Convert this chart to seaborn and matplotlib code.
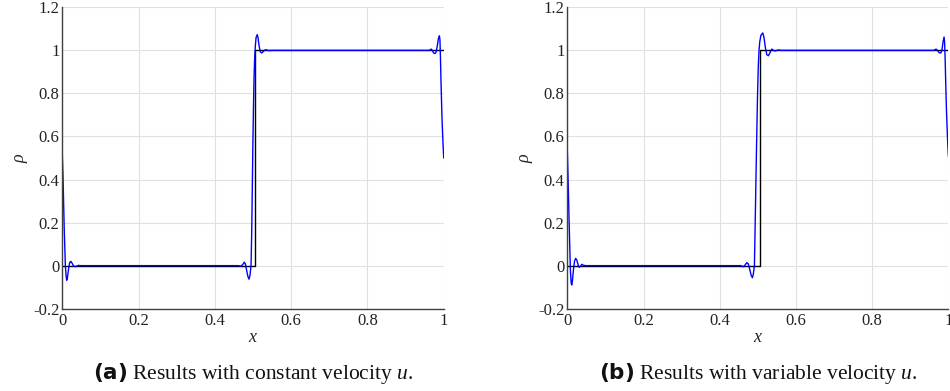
import numpy as np
import pandas as pd
import matplotlib
matplotlib.use("Agg")
import matplotlib.pyplot as plt
import seaborn as sns

# ---------------- data ----------------
# exact solution (black)
exact_x = [0.0, 0.505, 0.505, 1.0]
exact_y = [0.0, 0.0, 1.0, 1.0]

# (a) constant velocity – numerical solution (blue)
a_x = [0.0, 0.002, 0.005, 0.008, 0.010, 0.0115, 0.013, 0.016, 0.019, 0.021, 0.023,
       0.026, 0.029, 0.033, 0.037, 0.042, 0.050, 0.450, 0.455, 0.462, 0.468, 0.473,
       0.477, 0.480, 0.483, 0.4865, 0.4895, 0.492, 0.4948, 0.4965, 0.498, 0.4995,
       0.501, 0.5025, 0.504, 0.506, 0.508, 0.511, 0.513, 0.516, 0.519, 0.5228,
       0.527, 0.531, 0.534, 0.538, 0.542, 0.548, 0.960, 0.9635, 0.9667, 0.970,
       0.9735, 0.977, 0.980, 0.983, 0.986, 0.9885, 0.990, 0.9915, 0.993, 0.9955,
       0.998, 1.0]
a_y = [0.515, 0.40, 0.17, 0.0, -0.05, -0.068, -0.06, -0.02, 0.012, 0.019, 0.019,
       0.01, 0.0, -0.005, -0.002, 0.001, 0.0, 0.0, 0.0, 0.0, -0.003, 0.005,
       0.016, 0.008, -0.02, -0.05, -0.063, -0.045, 0.0, 0.15, 0.35, 0.55,
       0.72, 0.86, 0.95, 1.02, 1.06, 1.073, 1.06, 1.02, 0.993, 0.988,
       0.995, 1.002, 1.003, 1.0, 0.999, 1.0, 1.0, 1.001, 1.006, 1.0,
       0.988, 0.985, 0.992, 1.02, 1.055, 1.068, 1.05, 0.96, 0.84, 0.68,
       0.57, 0.4995]

# (b) variable velocity – numerical solution (blue)
b_x = [0.0, 0.002, 0.005, 0.008, 0.010, 0.0115, 0.013, 0.016, 0.019, 0.022, 0.025,
       0.028, 0.031, 0.034, 0.038, 0.042, 0.047, 0.450, 0.455, 0.462, 0.467, 0.471,
       0.475, 0.479, 0.4825, 0.4856, 0.488, 0.491, 0.4925, 0.494, 0.4965, 0.499,
       0.501, 0.503, 0.505, 0.508, 0.5128, 0.516, 0.520, 0.5235, 0.5276, 0.532,
       0.5365, 0.541, 0.545, 0.550, 0.554, 0.560, 0.960, 0.962, 0.9677, 0.972,
       0.976, 0.980, 0.983, 0.986, 0.9887, 0.990, 0.9915, 0.993, 0.995, 0.9975,
       1.0]
b_y = [0.53, 0.40, 0.18, -0.02, -0.08, -0.09, -0.075, -0.02, 0.022, 0.034, 0.025,
       0.005, -0.008, -0.004, 0.006, 0.002, 0.0, 0.0, 0.0, -0.005, 0.004, 0.014,
       0.008, -0.02, -0.045, -0.056, -0.04, 0.0, 0.15, 0.30, 0.55, 0.78,
       0.92, 1.0, 1.04, 1.07, 1.081, 1.06, 1.01, 0.98, 0.975, 0.99,
       1.006, 1.0, 0.997, 1.0, 1.002, 1.0, 1.0, 1.0, 1.006, 0.998,
       0.989, 0.988, 1.0, 1.04, 1.062, 1.04, 0.96, 0.85, 0.72, 0.60,
       0.507]

x_ticks = [0, 0.2, 0.4, 0.6, 0.8, 1]
x_ticklabels = ["0", "0.2", "0.4", "0.6", "0.8", "1"]
y_ticks = [-0.2, 0, 0.2, 0.4, 0.6, 0.8, 1, 1.2]
y_ticklabels = ["-0.2", "0", "0.2", "0.4", "0.6", "0.8", "1", "1.2"]

captions = [r"$\mathbf{(a)}$ Results with constant velocity $u$.",
            r"$\mathbf{(b)}$ Results with variable velocity $u$."]

# ---------------- style ----------------
sns.set_theme(style="whitegrid")
plt.rcParams.update({
    "font.family": ["Liberation Serif", "DejaVu Serif"],
    "mathtext.fontset": "custom",
    "mathtext.rm": "Liberation Serif",
    "mathtext.it": "Liberation Serif:italic",
    "mathtext.bf": "DejaVu Sans:bold",
    "axes.edgecolor": "#404040",
    "grid.color": "#e0e0e0",
    "grid.linewidth": 0.8,
})

fig = plt.figure(figsize=(9.5, 3.91), dpi=100)
ax_l = fig.add_axes([0.0656, 0.2105, 0.4015, 0.7708])
ax_r = fig.add_axes([0.5972, 0.2105, 0.4011, 0.7708])

exact_df = pd.DataFrame({"x": exact_x, "rho": exact_y})
panels = [(ax_l, a_x, a_y, captions[0]), (ax_r, b_x, b_y, captions[1])]

for ax, xs, ys, cap in panels:
    num_df = pd.DataFrame({"x": xs, "rho": ys})
    sns.lineplot(data=exact_df, x="x", y="rho", ax=ax, color="black",
                 lw=1.0, estimator=None, sort=False)
    sns.lineplot(data=num_df, x="x", y="rho", ax=ax, color="#0000ff",
                 lw=1.0, estimator=None, sort=False)
    ax.set_xlim(0, 1)
    ax.set_ylim(-0.2, 1.2)
    ax.set_xticks(x_ticks)
    ax.set_xticklabels(x_ticklabels)
    ax.set_yticks(y_ticks)
    ax.set_yticklabels(y_ticklabels)
    ax.tick_params(direction="in", length=4, width=0.8, color="#404040",
                   labelsize=12, pad=2, labelcolor="#222222")
    ax.tick_params(axis="x", pad=3)
    for s in ["top", "right"]:
        ax.spines[s].set_visible(False)
    for s in ["left", "bottom"]:
        ax.spines[s].set_linewidth(1.0)
    ax.grid(True)
    ax.set_xlabel(r"$x$", fontsize=13, labelpad=0)
    ax.set_ylabel(r"$\rho$", fontsize=13, labelpad=2)
    bb = ax.get_position()
    fig.text(bb.x0 + bb.width / 2, 1 - 373 / 391, cap, ha="center",
             va="center", fontsize=15.5, color="#111111")

fig.savefig("out.png", dpi=100)
